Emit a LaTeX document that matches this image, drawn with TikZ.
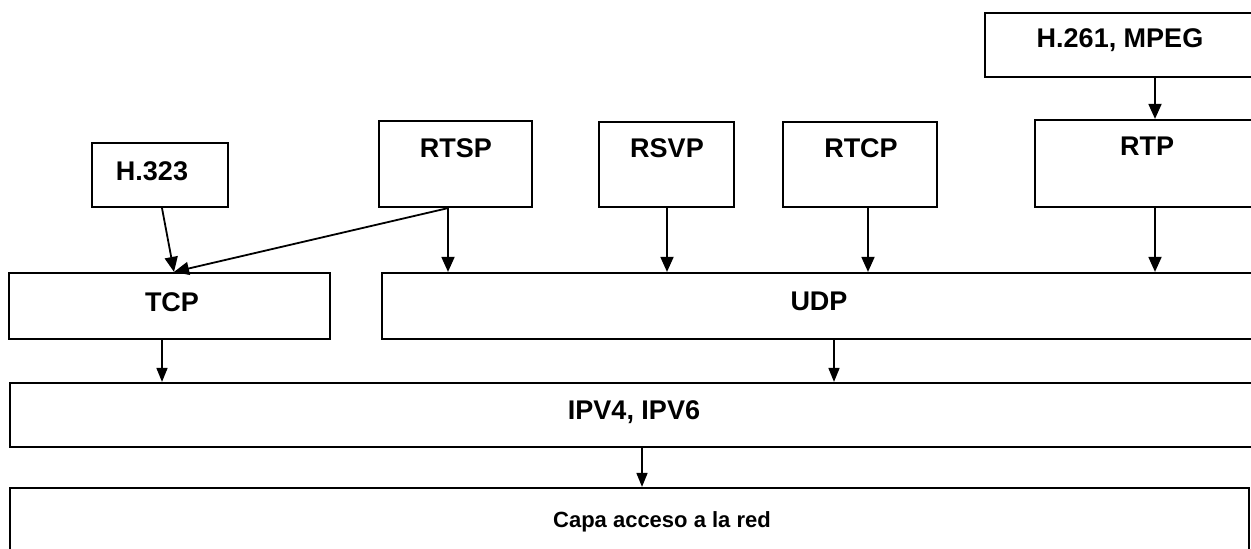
\documentclass[tikz,border=0pt]{standalone}
\usepackage{fontspec}
\setmainfont{Liberation Sans}
\usetikzlibrary{arrows.meta}
\begin{document}
\begin{tikzpicture}[x=1pt,y=-1pt,
  box/.style={draw, line width=2.2pt, inner sep=0pt, rectangle},
  lab/.style={anchor=base, inner sep=0pt, font=\fontsize{27}{30}\selectfont\bfseries},
  smalllab/.style={anchor=base, inner sep=0pt, font=\fontsize{22}{26}\selectfont\bfseries},
  arr/.style={line width=1.8pt, -{Triangle[length=15pt,width=13pt]}},
  sarr/.style={line width=1.6pt, -{Triangle[length=14pt,width=11pt]}}]
\clip (0,0) rectangle (1251,549);
\fill[white] (0,0) rectangle (1251,549);
% boxes
\node[box, minimum width=271pt, minimum height=64pt] (mpeg) at (1120.5,45) {};
\node[box, minimum width=221pt, minimum height=87pt] (rtp) at (1145.5,163.5) {};
\node[box, minimum width=154pt, minimum height=85pt] (rtcp) at (860,164.5) {};
\node[box, minimum width=135pt, minimum height=85pt] (rsvp) at (666.5,164.5) {};
\node[box, minimum width=153pt, minimum height=86pt] (rtsp) at (455.5,164) {};
\node[box, minimum width=136pt, minimum height=64pt] (h323) at (160,175) {};
\node[box, minimum width=321pt, minimum height=66pt] (tcp) at (169.5,306) {};
\node[box, minimum width=874pt, minimum height=66pt] (udp) at (819,306) {};
\node[box, minimum width=1246pt, minimum height=64pt] (ip) at (633,415) {};
\node[box, minimum width=1239pt, minimum height=72pt] (capa) at (629.5,524) {};
% labels
\node[lab] (tmpeg) at (1120,47) {H.261, MPEG};
\node[lab] (trtp) at (1147,155) {RTP};
\node[lab] (trtcp) at (861,157) {RTCP};
\node[lab] (trsvp) at (667,157) {RSVP};
\node[lab] (trtsp) at (456,157) {RTSP};
\node[lab] (th323) at (152,180) {H.323};
\node[lab] (ttcp) at (172,311) {TCP};
\node[lab] (tudp) at (819,310) {UDP};
\node[lab] (tip) at (634,419) {IPV4, IPV6};
\node[smalllab] (tcapa) at (662,527) {Capa acceso a la red};
% connectors
\draw[arr] (1155,0 |- mpeg.south) -- (1155,0 |- rtp.north);
\draw[arr] (1155,0 |- rtp.south) -- (1155,0 |- udp.north);
\draw[arr] (868,0 |- rtcp.south) -- (868,0 |- udp.north);
\draw[arr] (667,0 |- rsvp.south) -- (667,0 |- udp.north);
\draw[arr] (448,0 |- rtsp.south) -- (448,0 |- udp.north);
\coordinate (tcptop) at (174,0 |- tcp.north);
\draw[arr] (448,0 |- rtsp.south) -- (tcptop);
\draw[arr] (162,0 |- h323.south) -- (tcptop);
\draw[sarr] (162,0 |- tcp.south) -- (162,0 |- ip.north);
\draw[sarr] (834,0 |- udp.south) -- (834,0 |- ip.north);
\draw[sarr] (642,0 |- ip.south) -- (642,0 |- capa.north);
\end{tikzpicture}
\end{document}
